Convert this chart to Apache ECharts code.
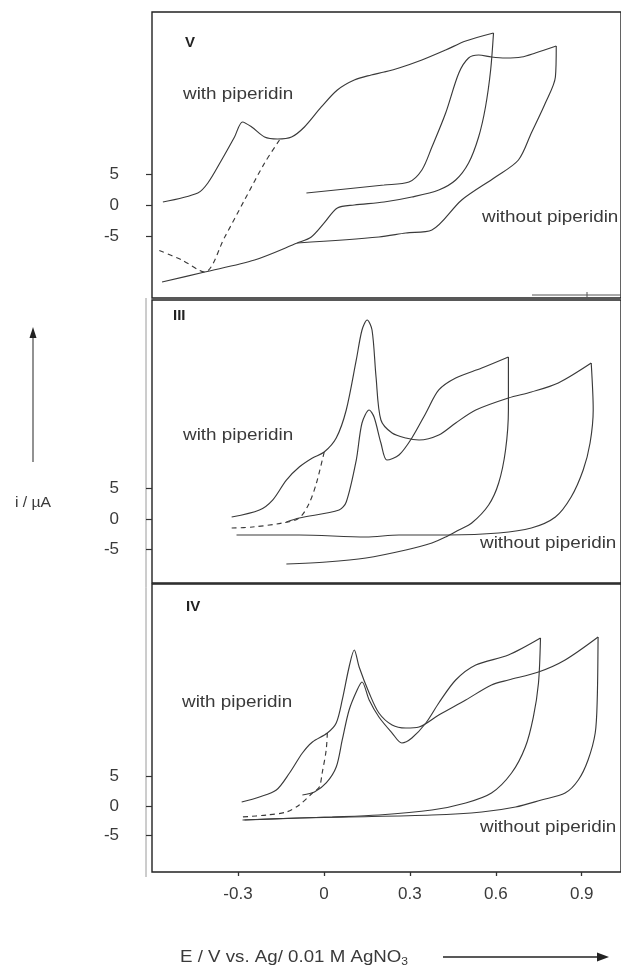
<!DOCTYPE html>
<html>
<head>
<meta charset="utf-8">
<script src="https://cdn.jsdelivr.net/npm/echarts@6/dist/echarts.min.js"></script>
<style>
html,body{margin:0;padding:0;background:#fff;}
#chart{width:621px;height:967px;}
</style>
</head>
<body>
<div id="chart"></div>
<script>
// ---------- data: [E (V), i (µA)] ----------
// Panel V
var vWithFwd = [[-0.562,0.48],[-0.440,1.94],[-0.405,3.55],[-0.357,7.26],[-0.312,10.97],[-0.284,13.39],[-0.252,12.58],[-0.207,10.97],[-0.162,10.65],[-0.113,10.97],[-0.068,12.58],[-0.009,15.81],[0.047,18.55],[0.106,20.16],[0.165,20.97],[0.210,21.45],[0.262,22.10],[0.342,23.39],[0.425,25.0],[0.495,26.45],[0.592,27.74]];
var vWithRev = [[0.592,27.74],[0.582,21.77],[0.564,15.81],[0.540,10.97],[0.505,6.77],[0.460,4.03],[0.401,2.42],[0.307,1.29],[0.210,0.48],[0.106,0],[0.047,-0.48],[0.001,-2.90],[-0.044,-5.16],[-0.093,-6.13],[-0.242,-8.87],[-0.416,-10.81],[-0.565,-12.42]];
var vWithoutFwd = [[-0.061,1.94],[0.210,3.23],[0.297,3.71],[0.342,5.65],[0.377,9.35],[0.425,14.84],[0.471,21.29],[0.505,23.71],[0.540,24.19],[0.585,23.87],[0.634,23.71],[0.690,23.87],[0.738,24.52],[0.811,25.65]];
var vWithoutRev = [[0.811,25.65],[0.808,20.65],[0.773,16.45],[0.724,11.61],[0.679,7.26],[0.599,4.52],[0.481,0.81],[0.377,-4.03],[0.286,-4.52],[0.192,-5.16],[-0.093,-6.13]];
var vDashed = [[-0.155,10.48],[-0.207,6.77],[-0.277,0.81],[-0.346,-5.16],[-0.416,-10.81],[-0.496,-8.87],[-0.579,-7.26]];

// Panel III
var iiiLoop1Fwd = [[-0.322,0.33],[-0.225,1.48],[-0.179,3.11],[-0.131,6.39],[-0.086,8.52],[-0.040,10.0],[0.001,10.98],[0.043,13.28],[0.078,17.87],[0.113,26.07],[0.133,30.98],[0.151,32.62],[0.168,30.98],[0.182,23.28],[0.199,16.23],[0.238,14.10],[0.286,13.28],[0.332,12.95],[0.401,13.77],[0.460,15.74],[0.530,17.87],[0.644,19.84],[0.724,20.82],[0.818,22.30],[0.933,25.57]];
var iiiLoop1Rev = [[0.933,25.57],[0.940,17.87],[0.929,12.46],[0.905,8.03],[0.863,3.61],[0.808,0.33],[0.724,-1.48],[0.610,-2.30],[0.436,-2.62],[0.262,-2.62],[0.147,-2.95],[-0.086,-2.62],[-0.305,-2.62]];
var iiiLoop2Fwd = [[-0.131,-0.49],[-0.086,0.16],[0.053,1.48],[0.078,2.79],[0.113,9.67],[0.133,15.74],[0.158,17.87],[0.175,16.72],[0.199,12.46],[0.220,9.67],[0.262,10.49],[0.307,13.28],[0.356,17.38],[0.401,21.15],[0.460,23.11],[0.551,24.75],[0.644,26.56]];
var iiiLoop2Rev = [[0.644,26.56],[0.644,17.87],[0.634,11.31],[0.610,5.90],[0.575,2.30],[0.516,-0.66],[0.471,-1.80],[0.425,-2.95],[0.377,-3.93],[0.286,-5.08],[0.147,-6.39],[0.008,-7.05],[-0.131,-7.38]];
var iiiDashed = [[0.001,10.98],[-0.026,5.90],[-0.051,2.62],[-0.086,0.16],[-0.145,-0.66],[-0.249,-1.31],[-0.322,-1.48]];

// Panel IV
var ivLoop1Fwd = [[-0.287,0.68],[-0.225,1.53],[-0.166,2.71],[-0.120,5.59],[-0.075,8.98],[-0.040,10.85],[0.012,12.37],[0.043,14.07],[0.064,17.97],[0.088,23.56],[0.106,26.44],[0.123,23.56],[0.158,19.15],[0.192,15.76],[0.238,13.73],[0.286,13.22],[0.332,13.39],[0.401,15.42],[0.495,17.97],[0.585,20.51],[0.644,21.36],[0.749,22.71],[0.842,24.75],[0.957,28.64]];
var ivLoop1Rev = [[0.957,28.64],[0.954,17.97],[0.947,12.37],[0.922,7.80],[0.888,4.41],[0.842,2.20],[0.759,1.02],[0.669,-0.17],[0.551,-1.02],[0.377,-1.53],[0.088,-1.86],[-0.086,-2.03],[-0.284,-2.37]];
var ivLoop2Fwd = [[-0.075,1.86],[-0.033,2.37],[0.008,3.90],[0.043,6.61],[0.064,11.19],[0.088,16.27],[0.116,19.66],[0.133,21.02],[0.158,17.97],[0.192,15.08],[0.238,12.37],[0.272,10.68],[0.307,11.53],[0.356,14.07],[0.401,17.46],[0.460,21.36],[0.530,23.90],[0.644,25.59],[0.756,28.47]];
var ivLoop2Rev = [[0.756,28.47],[0.749,20.85],[0.731,15.08],[0.703,10.0],[0.655,5.59],[0.585,2.20],[0.495,0.51],[0.377,-0.68],[0.192,-1.53],[0.029,-1.86],[-0.086,-2.03],[-0.277,-2.37]];
var ivDashed = [[0.012,12.37],[0.008,9.49],[-0.006,5.59],[-0.016,3.22],[-0.040,2.20],[-0.086,0.17],[-0.131,-1.02],[-0.200,-1.53],[-0.284,-1.86]];

// ticks
var xTickValues = [-0.3, 0, 0.3, 0.6, 0.9];
var yTickValues = [-5, 0, 5];
var panelNames = ['V', 'III', 'IV'];

// ---------- chart ----------
var chart = echarts.init(document.getElementById('chart'), null, {renderer: 'canvas'});
var lineColor = '#3a3a3a';
var FONT = '"Liberation Sans", Arial, Helvetica, sans-serif';

var grids = [
  {left: 152, right: -2, top: 12, height: 286},
  {left: 152, right: -2, top: 300, height: 283},
  {left: 152, right: -2, top: 584, height: 288}
].map(function (g) {
  return Object.assign({show: true, borderColor: '#222', borderWidth: 1.4, backgroundColor: 'transparent'}, g);
});

var yRanges = [[-15, 31.13], [-10.49, 35.9], [-11.19, 37.63]];

var xAxes = [0, 1, 2].map(function (k) {
  var last = (k === 2);
  return {
    type: 'value', gridIndex: k, min: -0.6, max: 1.037, position: 'bottom',
    axisLine: {show: false, onZero: false},
    splitLine: {show: false},
    axisTick: {show: last, customValues: xTickValues, length: 4, inside: false, lineStyle: {color: '#333', width: 1.3}},
    axisLabel: {show: last, customValues: xTickValues, margin: 14, fontSize: 17, color: '#3a3a3a', fontFamily: FONT,
      formatter: function (v) { return String(Math.round(v * 10) / 10); }}
  };
});

var yAxes = [0, 1, 2].map(function (k) {
  return {
    type: 'value', gridIndex: k, min: yRanges[k][0], max: yRanges[k][1], position: 'left',
    axisLine: {show: false, onZero: false},
    splitLine: {show: false},
    axisTick: {show: true, customValues: yTickValues, length: 6, inside: false, lineStyle: {color: '#333', width: 1.2}},
    axisLabel: {show: true, customValues: yTickValues, margin: 33, fontSize: 17, color: '#3a3a3a', fontFamily: FONT}
  };
});

function mk(data, k, dashed) {
  return {
    type: 'line', xAxisIndex: k, yAxisIndex: k, data: data,
    showSymbol: false, smooth: 0.3, silent: true, animation: false,
    lineStyle: {color: lineColor, width: 1.15, type: dashed ? [5, 4] : 'solid'}
  };
}

var series = [
  mk(vWithFwd, 0), mk(vWithRev, 0), mk(vWithoutFwd, 0), mk(vWithoutRev, 0), mk(vDashed, 0, true),
  mk(iiiLoop1Fwd, 1), mk(iiiLoop1Rev, 1), mk(iiiLoop2Fwd, 1), mk(iiiLoop2Rev, 1), mk(iiiDashed, 1, true),
  mk(ivLoop1Fwd, 2), mk(ivLoop1Rev, 2), mk(ivLoop2Fwd, 2), mk(ivLoop2Rev, 2), mk(ivDashed, 2, true)
];

function txt(x, y, s, opts) {
  opts = opts || {};
  return {
    type: 'text', x: x, y: y, silent: true, scaleX: opts.sx || 1,
    style: Object.assign({text: s, font: (opts.bold ? 'bold ' : '') + (opts.size || 17) + 'px ' + FONT,
      fill: opts.fill || '#3a3a3a', textAlign: opts.align || 'left', textVerticalAlign: 'middle'}, opts.style || {})
  };
}

var SX = 1.11;
var graphics = [
  // panel labels
  txt(185, 43, panelNames[0], {bold: true, size: 15, fill: '#222'}),
  txt(173, 316, panelNames[1], {bold: true, size: 15, fill: '#222'}),
  txt(186, 607, panelNames[2], {bold: true, size: 15, fill: '#222'}),
  // annotations
  txt(183, 94, 'with piperidin', {sx: SX}),
  txt(482, 217, 'without piperidin', {sx: SX}),
  txt(183, 435, 'with piperidin', {sx: SX}),
  txt(480, 543, 'without piperidin', {sx: SX}),
  txt(182, 702, 'with piperidin', {sx: SX}),
  txt(480, 827, 'without piperidin', {sx: SX}),
  // y axis title + arrow
  txt(33, 503, 'i / µA', {align: 'center', size: 15, sx: 1.05}),
  {type: 'line', silent: true, shape: {x1: 33, y1: 462, x2: 33, y2: 336}, style: {stroke: '#777', lineWidth: 1.6}},
  {type: 'polygon', silent: true, shape: {points: [[33, 327], [29.5, 338], [36.5, 338]]}, style: {fill: '#222'}},
  // x axis title + arrow
  {type: 'text', x: 180, y: 957, silent: true, scaleX: 1.1,
    style: {text: '{n|E / V vs. Ag/ 0.01 M AgNO}{s|3}', textVerticalAlign: 'middle',
      rich: {n: {font: '17px ' + FONT, fill: '#3a3a3a'}, s: {font: '11px ' + FONT, fill: '#3a3a3a', padding: [9, 0, 0, 0]}}}},
  {type: 'line', silent: true, shape: {x1: 443, y1: 957, x2: 598, y2: 957}, style: {stroke: '#222', lineWidth: 1.4}},
  {type: 'polygon', silent: true, shape: {points: [[609, 957], [597, 952.5], [597, 961.5]]}, style: {fill: '#222'}},
  // scan artefacts: second left frame line and stray segment
  {type: 'line', silent: true, shape: {x1: 146, y1: 298, x2: 146, y2: 877}, style: {stroke: '#9a9a9a', lineWidth: 1}},
  {type: 'line', silent: true, shape: {x1: 532, y1: 295, x2: 621, y2: 295}, style: {stroke: '#555', lineWidth: 1}},
  {type: 'line', silent: true, shape: {x1: 587, y1: 292, x2: 587, y2: 298}, style: {stroke: '#555', lineWidth: 1}}
];

chart.setOption({
  animation: false,
  backgroundColor: '#ffffff',
  grid: grids,
  xAxis: xAxes,
  yAxis: yAxes,
  series: series,
  graphic: {elements: graphics}
});
</script>
</body>
</html>
